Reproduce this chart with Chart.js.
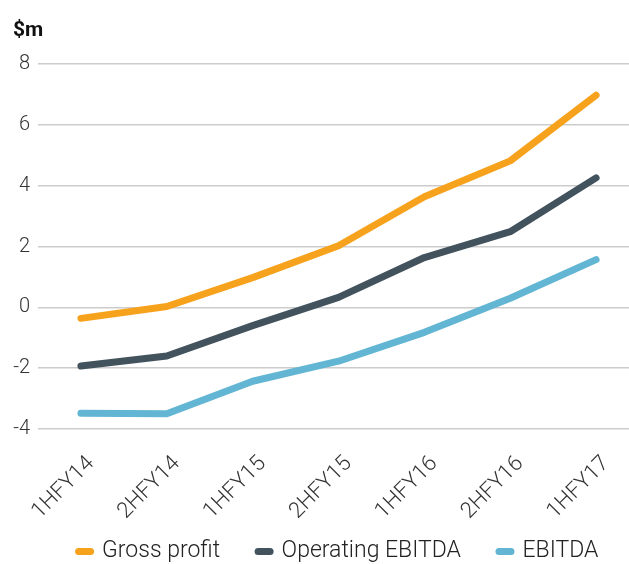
<!DOCTYPE html>
<html>
<head>
<meta charset="utf-8">
<script src="https://cdn.jsdelivr.net/npm/chart.js@4/dist/chart.umd.min.js"></script>
<style>
  html, body { margin: 0; padding: 0; background: #fff; overflow: hidden; }
  #wrap { width: 639px; height: 564px; }
</style>
</head>
<body>
<div id="wrap"><canvas id="profitChart"></canvas></div>
<script>
var periods = ['1HFY14', '2HFY14', '1HFY15', '2HFY15', '1HFY16', '2HFY16', '1HFY17'];
var grossProfit = [-0.36, 0.03, 0.98, 2.03, 3.64, 4.82, 6.98];
var operatingEbitda = [-1.93, -1.6, -0.6, 0.33, 1.64, 2.49, 4.26];
var ebitda = [-3.48, -3.5, -2.43, -1.77, -0.82, 0.3, 1.57];
var yTicks = [-4, -2, 0, 2, 4, 6, 8];

// legend items need wide horizontal gaps but little vertical room
var legendHeightFix = {
    id: 'legendHeightFix',
    beforeLayout: function (chart) {
        var lg = chart.legend;
        if (lg && !lg._patched) {
            var fit = lg.fit;
            lg.fit = function () {
                fit.call(this);
                this.height = 60;
            };
            lg._patched = true;
        }
    }
};

window.addEventListener("load", function () {
    var ctx = document.getElementById("profitChart").getContext("2d");

    function lineSet(label, data, color) {
        return {
            label: label,
            data: data,
            borderColor: color,
            backgroundColor: color,
            borderWidth: 7,
            borderCapStyle: 'round',
            borderJoinStyle: 'round',
            pointRadius: 0,
            pointHoverRadius: 0,
            tension: 0,
            fill: false
        };
    }

    new Chart(ctx, {
        type: 'line',
        data: {
            labels: periods,
            datasets: [
                lineSet('Gross profit', grossProfit, '#f7a21d'),
                lineSet('Operating EBITDA', operatingEbitda, '#43535e'),
                lineSet('EBITDA', ebitda, '#62b6d3')
            ]
        },
        plugins: [legendHeightFix],
        options: {
            responsive: true,
            maintainAspectRatio: false,
            animation: false,
            layout: {
                padding: { left: 13, right: 0, top: 0, bottom: 2 }
            },
            plugins: {
                tooltip: { enabled: false },
                title: {
                    display: true,
                    text: '$m',
                    align: 'start',
                    color: '#111',
                    font: { family: 'Roboto', size: 21, weight: 'bold' },
                    padding: { top: 18, bottom: 21 }
                },
                legend: {
                    position: 'bottom',
                    fullSize: false,
                    labels: {
                        usePointStyle: true,
                        pointStyle: 'line',
                        pointStyleWidth: 12,
                        padding: 38,
                        color: '#222',
                        font: { family: 'Roboto', size: 23, weight: 300 },
                        generateLabels: function (chart) {
                            return chart.data.datasets.map(function (ds, i) {
                                return {
                                    text: ds.label,
                                    fillStyle: ds.borderColor,
                                    strokeStyle: ds.borderColor,
                                    lineWidth: 7,
                                    lineCap: 'round',
                                    pointStyle: 'line',
                                    fontColor: '#222',
                                    datasetIndex: i
                                };
                            });
                        }
                    }
                }
            },
            scales: {
                x: {
                    offset: true,
                    afterFit: function (scale) {
                        // keep the plot tall; let the rotated labels spill below the box
                        scale.height = 73;
                        scale._computeLabelArea = function () { return undefined; };
                    },
                    grid: { display: false },
                    border: { display: false },
                    ticks: {
                        color: '#333',
                        maxRotation: 45,
                        minRotation: 45,
                        padding: 14,
                        labelOffset: 10,
                        font: { family: 'Roboto', size: 22, weight: 300 }
                    }
                },
                y: {
                    min: -4,
                    max: 8,
                    afterBuildTicks: function (scale) {
                        scale.ticks = yTicks.map(function (v) { return { value: v }; });
                    },
                    afterFit: function (scale) { scale.width = 25; },
                    grid: { color: '#cccccc', lineWidth: 1.5, drawTicks: false },
                    border: { display: false },
                    ticks: {
                        color: '#333',
                        padding: 8,
                        font: { family: 'Roboto', size: 20, weight: 300 }
                    }
                }
            }
        }
    });
});
</script>
</body>
</html>
